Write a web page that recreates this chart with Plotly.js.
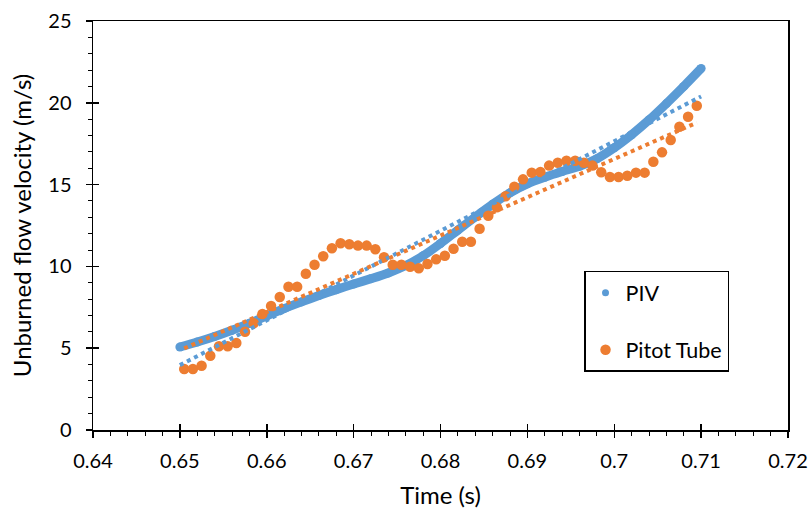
<!DOCTYPE html>
<html>
<head>
<meta charset="utf-8">
<script src="https://cdn.plot.ly/plotly-3.0.1.min.js"></script>
<style>
  html, body { margin: 0; padding: 0; background: #ffffff; }
  #chart { width: 812px; height: 517px; }
</style>
</head>
<body>
<div id="chart"></div>
<script>
// ---- Data ----
const pivTime = [0.650, 0.652, 0.654, 0.656, 0.658, 0.660, 0.662, 0.664, 0.666, 0.668,
                 0.670, 0.672, 0.674, 0.676, 0.678, 0.680, 0.682, 0.684, 0.686, 0.688,
                 0.690, 0.692, 0.694, 0.696, 0.698, 0.700, 0.702, 0.704, 0.706, 0.708, 0.710];
const pivVelocity = [5.07, 5.38, 5.72, 6.10, 6.52, 6.97, 7.42, 7.83, 8.22, 8.58,
                     8.92, 9.25, 9.60, 10.05, 10.65, 11.40, 12.22, 13.02, 13.80, 14.50,
                     15.05, 15.45, 15.80, 16.12, 16.58, 17.25, 18.05, 18.95, 19.95, 21.00, 22.10];

const pitotTime = [0.6505, 0.6515, 0.6525, 0.6535, 0.6545, 0.6555, 0.6565, 0.6575, 0.6585, 0.6595,
                   0.6605, 0.6615, 0.6625, 0.6635, 0.6645, 0.6655, 0.6665, 0.6675, 0.6685, 0.6695,
                   0.6705, 0.6715, 0.6725, 0.6735, 0.6745, 0.6755, 0.6765, 0.6775, 0.6785, 0.6795,
                   0.6805, 0.6815, 0.6825, 0.6835, 0.6845, 0.6855, 0.6865, 0.6875, 0.6885, 0.6895,
                   0.6905, 0.6915, 0.6925, 0.6935, 0.6945, 0.6955, 0.6965, 0.6975, 0.6985, 0.6995,
                   0.7005, 0.7015, 0.7025, 0.7035, 0.7045, 0.7055, 0.7065, 0.7075, 0.7085, 0.7095];
const pitotVelocity = [3.73, 3.73, 3.93, 4.54, 5.12, 5.12, 5.32, 6.01, 6.52, 7.09,
                       7.58, 8.13, 8.76, 8.76, 9.55, 10.10, 10.62, 11.11, 11.41, 11.35,
                       11.27, 11.27, 11.05, 10.56, 10.10, 10.10, 9.98, 9.88, 10.15, 10.43,
                       10.65, 11.08, 11.51, 11.51, 12.30, 13.10, 13.61, 14.29, 14.87, 15.32,
                       15.73, 15.77, 16.16, 16.34, 16.46, 16.46, 16.34, 16.16, 15.75, 15.46,
                       15.46, 15.54, 15.73, 15.73, 16.40, 16.97, 17.73, 18.54, 19.15, 19.82];

const seriesNames = ["PIV", "Pitot Tube"];
const xTickVals = [0.64, 0.65, 0.66, 0.67, 0.68, 0.69, 0.70, 0.71, 0.72];
const xTickLabels = ["0.64", "0.65", "0.66", "0.67", "0.68", "0.69", "0.7", "0.71", "0.72"];
const yTickVals = [0, 5, 10, 15, 20, 25];
const yTickLabels = ["0", "5", "10", "15", "20", "25"];
const xTitle = "Time (s)";
const yTitle = "Unburned flow velocity (m/s)";

// ---- Linear (least-squares) trendline of a series, over the series' own x-range ----
function linearTrend(xs, ys) {
  const n = xs.length;
  let sx = 0, sy = 0, sxx = 0, sxy = 0;
  for (let i = 0; i < n; i++) { sx += xs[i]; sy += ys[i]; sxx += xs[i] * xs[i]; sxy += xs[i] * ys[i]; }
  const slope = (n * sxy - sx * sy) / (n * sxx - sx * sx);
  const icpt = (sy - slope * sx) / n;
  const x0 = Math.min(...xs), x1 = Math.max(...xs);
  return { x: [x0, x1], y: [icpt + slope * x0, icpt + slope * x1] };
}

const BLUE = "#5B9BD5";
const ORANGE = "#ED7D31";
const FONT = "Lato, 'Open Sans', sans-serif";
const PAD = "\u00A0".repeat(12); // shifts the centred y title towards the top, as in the reference

const pivTrend = linearTrend(pivTime, pivVelocity);
const pitotTrend = linearTrend(pitotTime, pitotVelocity);

const traces = [
  { // PIV: dense measurement points drawn as a thick band with round ends
    x: pivTime, y: pivVelocity, type: "scatter", mode: "lines+markers",
    line: { color: BLUE, width: 9, shape: "spline", smoothing: 0.6 },
    marker: { color: BLUE, size: 9 },
    name: seriesNames[0], showlegend: false, hoverinfo: "x+y"
  },
  {
    x: pitotTime, y: pitotVelocity, type: "scatter", mode: "markers",
    marker: { color: ORANGE, size: 10.5 },
    name: seriesNames[1], legendgroup: "b", legendrank: 2
  },
  {
    x: pivTrend.x, y: pivTrend.y, type: "scatter", mode: "lines",
    line: { color: BLUE, width: 4, dash: "4px,4px" },
    showlegend: false, hoverinfo: "skip"
  },
  {
    x: pitotTrend.x, y: pitotTrend.y, type: "scatter", mode: "lines",
    line: { color: ORANGE, width: 4, dash: "4px,4px" },
    showlegend: false, hoverinfo: "skip"
  },
  { // legend entry for PIV (marker symbol, as in the reference legend)
    x: [null], y: [null], type: "scatter", mode: "markers",
    marker: { color: BLUE, size: 7 },
    name: seriesNames[0], legendgroup: "a", legendrank: 1,
    xaxis: "x2", yaxis: "y2"
  }
];

const axisCommon = {
  showgrid: false, zeroline: false,
  tickcolor: "#000000", tickwidth: 1.5,
  tickfont: { family: FONT, size: 20, color: "#000000" }
};

const layout = {
  width: 812, height: 517,
  margin: { l: 93, r: 24, t: 21, b: 87 },
  paper_bgcolor: "#ffffff", plot_bgcolor: "#ffffff",
  font: { family: FONT, color: "#000000" },
  showlegend: true,
  xaxis: Object.assign({}, axisCommon, {
    range: [0.64, 0.72], tickmode: "array", tickvals: xTickVals, ticktext: xTickLabels,
    ticks: "outside", ticklen: 6,
    showline: true, linecolor: "#000000", linewidth: 1.5, mirror: true,
    minor: { tickmode: "linear", tick0: 0.64, dtick: 0.002, ticks: "outside", ticklen: 4, tickwidth: 1, tickcolor: "#000000" },
    title: { text: xTitle, font: { family: FONT, size: 24, color: "#000000" }, standoff: 16 },
    ticklabelstandoff: 6
  }),
  yaxis: Object.assign({}, axisCommon, {
    range: [0, 25], tickmode: "array", tickvals: yTickVals, ticktext: yTickLabels,
    ticks: "outside", ticklen: 6,
    showline: true, linecolor: "#000000", linewidth: 1.5, mirror: true,
    minor: { tickmode: "linear", tick0: 0, dtick: 1, ticks: "outside", ticklen: 4, tickwidth: 1, tickcolor: "#000000" },
    title: { text: PAD + yTitle, font: { family: FONT, size: 24, color: "#000000" }, standoff: 10 },
    ticklabelstandoff: 10
  }),
  // overlay axes supply the inner half of the major ticks (cross-style ticks)
  xaxis2: {
    overlaying: "x", anchor: "y", side: "bottom", range: [0.64, 0.72],
    tickmode: "array", tickvals: xTickVals, ticks: "inside", ticklen: 6, tickwidth: 1.5, tickcolor: "#000000",
    showticklabels: false, showline: false, showgrid: false, zeroline: false
  },
  yaxis2: {
    overlaying: "y", anchor: "x", side: "left", range: [0, 25],
    tickmode: "array", tickvals: yTickVals, ticks: "inside", ticklen: 6, tickwidth: 1.5, tickcolor: "#000000",
    showticklabels: false, showline: false, showgrid: false, zeroline: false
  },
  legend: {
    x: 0.7065, y: 0.389, xanchor: "left", yanchor: "top",
    bgcolor: "#ffffff", bordercolor: "#000000", borderwidth: 1.5,
    font: { family: FONT, size: 21.5, color: "#000000" },
    traceorder: "grouped", tracegroupgap: 26
  }
};

Plotly.newPlot("chart", traces, layout, { displayModeBar: false, responsive: false, staticPlot: true });
</script>
</body>
</html>
